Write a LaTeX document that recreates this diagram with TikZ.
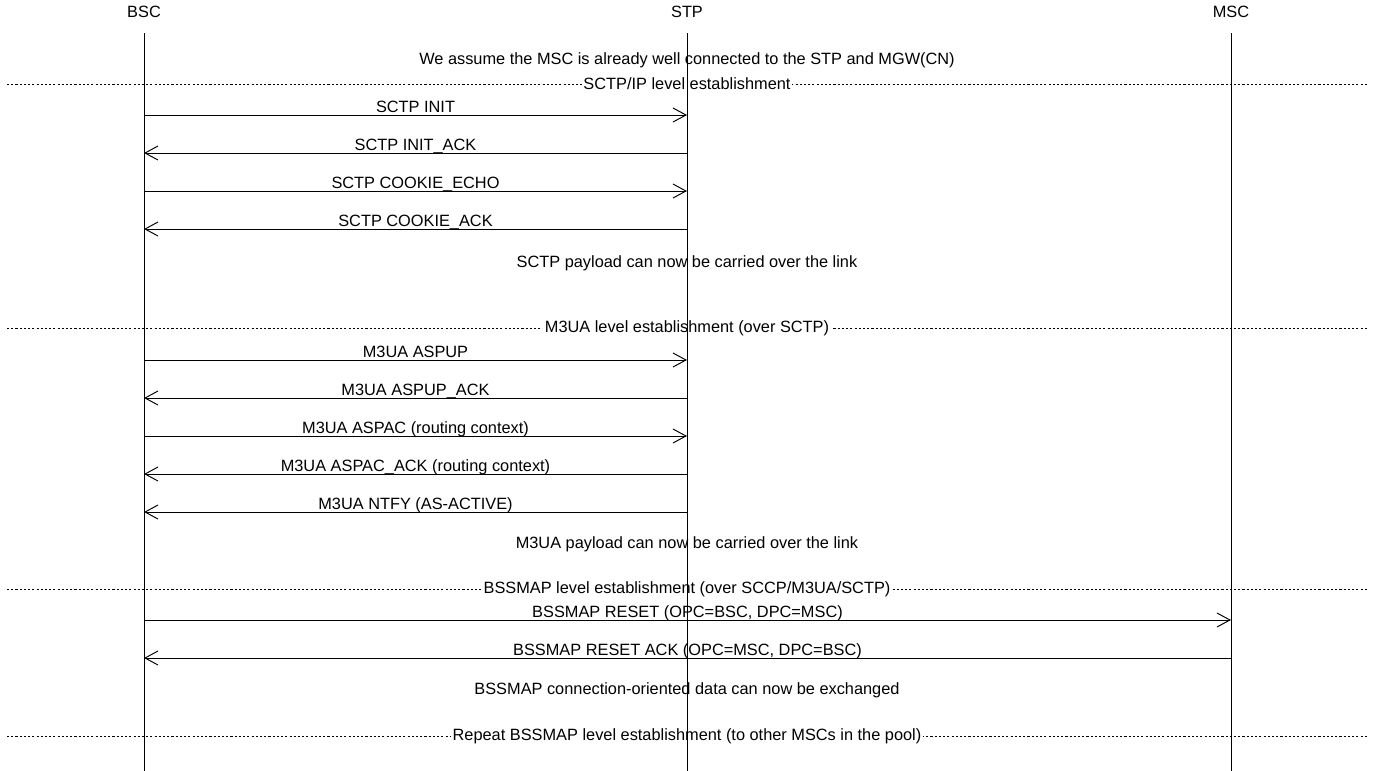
\documentclass[tikz,border=0pt]{standalone}
\usepackage{fontspec}
\setmainfont{Liberation Sans}
\usetikzlibrary{arrows.meta}
\begin{document}
\begin{tikzpicture}[x=0.02cm,y=-0.02cm,font=\fontsize{9.3pt}{11pt}\selectfont]
\tikzstyle{entity}=[inner sep=0]
\tikzstyle{msg}=[line width=0.55pt,-{Straight Barb[length=0.26cm,width=0.28cm,line width=0.55pt]}]
\tikzstyle{msglabel}=[anchor=base,inner sep=0,yshift=1.6pt]
\tikzstyle{sep}=[dashed,dash pattern=on 1.2pt off 1.2pt,line width=0.5pt]
\tikzstyle{seplabel}=[fill=white,inner sep=1pt]
\tikzstyle{note}=[inner sep=0]
\useasboundingbox (0, 0) rectangle (1374, 771);
% entities
\node[entity] at(144, 12) (bsc) {BSC};
\node[entity] at(687, 12) (stp) {STP};
\node[entity] at(1231, 12) (msc) {MSC};
\coordinate (bscend) at (144, 771);
\coordinate (stpend) at (687, 771);
\coordinate (mscend) at (1231, 771);
% separators
\coordinate (s1l) at (7, 84); \coordinate (s1r) at (1367, 84);
\coordinate (s2l) at (7, 328); \coordinate (s2r) at (1367, 328);
\coordinate (s3l) at (7, 589); \coordinate (s3r) at (1367, 589);
\coordinate (s4l) at (7, 736); \coordinate (s4r) at (1367, 736);
\draw[sep] (s1l) -- (s1r);
\draw[sep] (s2l) -- (s2r);
\draw[sep] (s3l) -- (s3r);
\draw[sep] (s4l) -- (s4r);
\node[seplabel] at(687, 84) (sctpest) {SCTP/IP level establishment};
\node[seplabel] at(687, 328) (m3uaest) {M3UA level establishment (over SCTP)};
\node[seplabel] at(687, 589) (bssmapest) {BSSMAP level establishment (over SCCP/M3UA/SCTP)};
\node[seplabel] at(687, 736) (repeatest) {Repeat BSSMAP level establishment (to other MSCs in the pool)};
% notes
\node[note] at(687, 60) (assume) {We assume the MSC is already well connected to the STP and MGW(CN)};
\node[note] at(687, 263) (sctpok) {SCTP payload can now be carried over the link};
\node[note] at(687, 544) (m3uaok) {M3UA payload can now be carried over the link};
\node[note] at(687, 690) (bssmapok) {BSSMAP connection-oriented data can now be exchanged};
% lifelines
\coordinate (bsctop) at (144, 33);
\coordinate (stptop) at (687, 33);
\coordinate (msctop) at (1231, 33);
\draw[line width=0.55pt] (bsctop) -- (bscend);
\draw[line width=0.55pt] (stptop) -- (stpend);
\draw[line width=0.55pt] (msctop) -- (mscend);
% SCTP
\coordinate (b1) at (144, 115); \coordinate (t1) at (687, 115);
\coordinate (b2) at (144, 153); \coordinate (t2) at (687, 153);
\coordinate (b3) at (144, 191); \coordinate (t3) at (687, 191);
\coordinate (b4) at (144, 229); \coordinate (t4) at (687, 229);
\draw[msg] (b1) -- (t1) node[msglabel,midway] {SCTP INIT};
\draw[msg] (t2) -- (b2) node[msglabel,midway] {SCTP INIT\_ACK};
\draw[msg] (b3) -- (t3) node[msglabel,midway] {SCTP COOKIE\_ECHO};
\draw[msg] (t4) -- (b4) node[msglabel,midway] {SCTP COOKIE\_ACK};
% M3UA
\coordinate (b5) at (144, 360); \coordinate (t5) at (687, 360);
\coordinate (b6) at (144, 398); \coordinate (t6) at (687, 398);
\coordinate (b7) at (144, 436); \coordinate (t7) at (687, 436);
\coordinate (b8) at (144, 474); \coordinate (t8) at (687, 474);
\coordinate (b9) at (144, 512); \coordinate (t9) at (687, 512);
\draw[msg] (b5) -- (t5) node[msglabel,midway] {M3UA ASPUP};
\draw[msg] (t6) -- (b6) node[msglabel,midway] {M3UA ASPUP\_ACK};
\draw[msg] (b7) -- (t7) node[msglabel,midway] {M3UA ASPAC (routing context)};
\draw[msg] (t8) -- (b8) node[msglabel,midway] {M3UA ASPAC\_ACK (routing context)};
\draw[msg] (t9) -- (b9) node[msglabel,midway] {M3UA NTFY (AS-ACTIVE)};
% BSSMAP
\coordinate (b10) at (144, 620); \coordinate (m10) at (1231, 620);
\coordinate (b11) at (144, 658); \coordinate (m11) at (1231, 658);
\draw[msg] (b10) -- (m10) node[msglabel,midway] {BSSMAP RESET (OPC=BSC, DPC=MSC)};
\draw[msg] (m11) -- (b11) node[msglabel,midway] {BSSMAP RESET ACK (OPC=MSC, DPC=BSC)};
\end{tikzpicture}
\end{document}
